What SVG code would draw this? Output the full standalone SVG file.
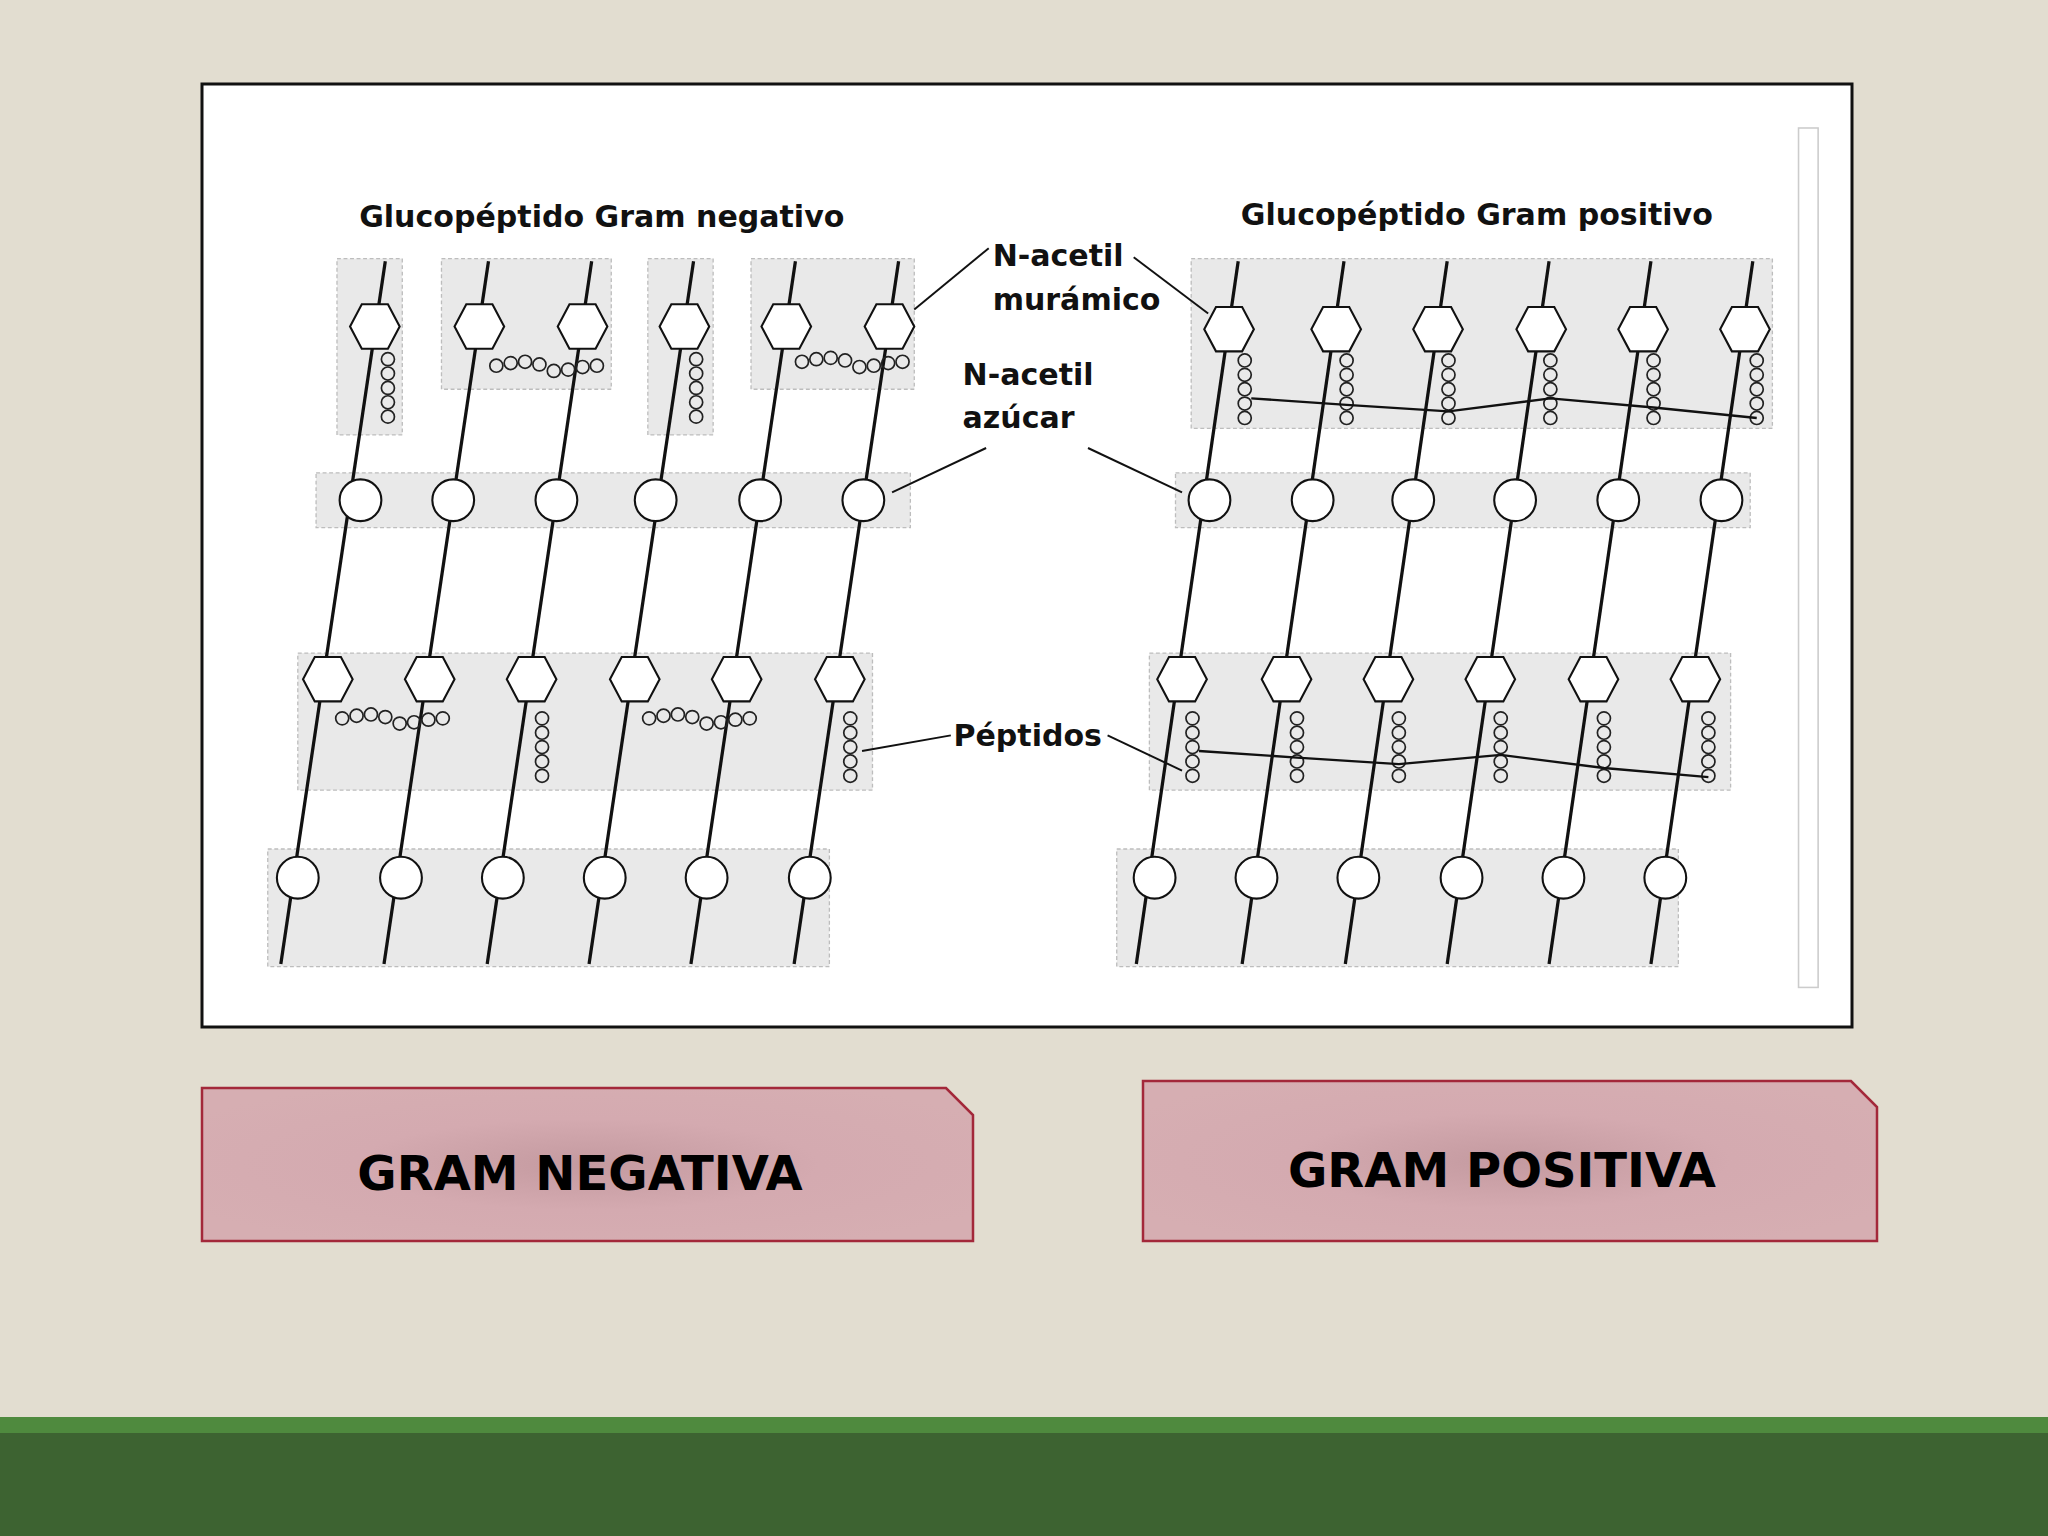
<svg xmlns="http://www.w3.org/2000/svg" width="2048" height="1536" viewBox="0 0 2048 1536">
<defs>
<radialGradient id="bx" cx="0.5" cy="0.5" r="0.6"><stop offset="0" stop-color="#c49aa0"/><stop offset="0.5" stop-color="#d4aab0"/><stop offset="1" stop-color="#d6aeb2"/></radialGradient>
<style>
.s{stroke:#111;stroke-width:2.5;fill:none}
.h{stroke:#111;stroke-width:1.6;fill:#fff}
.g{fill:#e9e9e9;stroke:#bdbdbd;stroke-width:1;stroke-dasharray:3 2}
.p{fill:none;stroke:#222;stroke-width:1.3}
.t{font-family:"DejaVu Sans",sans-serif;font-weight:bold;font-size:23px;fill:#111}
.big{font-family:"DejaVu Sans",sans-serif;font-weight:bold;font-size:48px;fill:#000;text-anchor:middle}
.lead{stroke:#111;stroke-width:1.5;fill:none}
</style>
<g id="hex"><polygon class="h" points="-10,-17 10,-17 19,0 10,17 -10,17 -19,0"/></g>
<g id="cir"><circle class="h" r="16"/></g>
<g id="pv"><circle class="p" cx="0" cy="0" r="5"/><circle class="p" cx="0" cy="11" r="5"/><circle class="p" cx="0" cy="22" r="5"/><circle class="p" cx="0" cy="33" r="5"/><circle class="p" cx="0" cy="44" r="5"/></g>
<g id="ph"><circle class="p" cx="0" cy="0" r="5"/><circle class="p" cx="11" cy="-2" r="5"/><circle class="p" cx="22" cy="-3" r="5"/><circle class="p" cx="33" cy="-1" r="5"/><circle class="p" cx="44" cy="4" r="5"/><circle class="p" cx="55" cy="3" r="5"/><circle class="p" cx="66" cy="1" r="5"/><circle class="p" cx="77" cy="0" r="5"/></g>
</defs>
<rect width="2048" height="1536" fill="#e2ddd0"/>
<rect y="1417" width="2048" height="16" fill="#4f8a3e"/>
<rect y="1433" width="2048" height="103" fill="#3d6331"/>
<rect x="202" y="84" width="1650" height="943" fill="#fff" stroke="#111" stroke-width="3"/>
<g transform="scale(1.30612)">
<g id="bg-noise">
<rect class="g" x="258" y="198" width="50" height="135"/><rect class="g" x="338" y="198" width="130" height="100"/><rect class="g" x="496" y="198" width="50" height="135"/><rect class="g" x="575" y="198" width="125" height="100"/>
<rect class="g" x="242" y="362" width="455" height="42"/><rect class="g" x="228" y="500" width="440" height="105"/><rect class="g" x="205" y="650" width="430" height="90"/>
<rect class="g" x="912" y="198" width="445" height="130"/><rect class="g" x="900" y="362" width="440" height="42"/><rect class="g" x="880" y="500" width="445" height="105"/><rect class="g" x="855" y="650" width="430" height="90"/>
<rect x="1377" y="98" width="15" height="658" fill="none" stroke="#ccc" stroke-width="1.2"/>
</g>
<text class="t" x="275" y="174">Glucopéptido Gram negativo</text>
<text class="t" x="950" y="172">Glucopéptido Gram positivo</text>
<g id="neg">
<line class="s" x1="295" y1="200" x2="215" y2="738"/><line class="s" x1="374" y1="200" x2="294" y2="738"/><line class="s" x1="453" y1="200" x2="373" y2="738"/><line class="s" x1="531" y1="200" x2="451" y2="738"/><line class="s" x1="609" y1="200" x2="529" y2="738"/><line class="s" x1="688" y1="200" x2="608" y2="738"/>
<use href="#hex" x="287" y="250"/><use href="#hex" x="367" y="250"/><use href="#hex" x="446" y="250"/><use href="#hex" x="524" y="250"/><use href="#hex" x="602" y="250"/><use href="#hex" x="681" y="250"/>
<use href="#cir" x="276" y="383"/><use href="#cir" x="347" y="383"/><use href="#cir" x="426" y="383"/><use href="#cir" x="502" y="383"/><use href="#cir" x="582" y="383"/><use href="#cir" x="661" y="383"/>
<use href="#hex" x="251" y="520"/><use href="#hex" x="329" y="520"/><use href="#hex" x="407" y="520"/><use href="#hex" x="486" y="520"/><use href="#hex" x="564" y="520"/><use href="#hex" x="643" y="520"/>
<use href="#cir" x="228" y="672"/><use href="#cir" x="307" y="672"/><use href="#cir" x="385" y="672"/><use href="#cir" x="463" y="672"/><use href="#cir" x="541" y="672"/><use href="#cir" x="620" y="672"/>
<use href="#pv" x="297" y="275"/><use href="#pv" x="533" y="275"/><use href="#pv" x="415" y="550"/><use href="#pv" x="651" y="550"/>
<use href="#ph" x="380" y="280"/><use href="#ph" x="614" y="277"/><use href="#ph" x="262" y="550"/><use href="#ph" x="497" y="550"/>
</g>
<g id="pos">
<line class="s" x1="948" y1="200" x2="870" y2="738"/><line class="s" x1="1029" y1="200" x2="951" y2="738"/><line class="s" x1="1108" y1="200" x2="1030" y2="738"/><line class="s" x1="1186" y1="200" x2="1108" y2="738"/><line class="s" x1="1264" y1="200" x2="1186" y2="738"/><line class="s" x1="1342" y1="200" x2="1264" y2="738"/>
<use href="#hex" x="941" y="252"/><use href="#hex" x="1023" y="252"/><use href="#hex" x="1101" y="252"/><use href="#hex" x="1180" y="252"/><use href="#hex" x="1258" y="252"/><use href="#hex" x="1336" y="252"/>
<use href="#cir" x="926" y="383"/><use href="#cir" x="1005" y="383"/><use href="#cir" x="1082" y="383"/><use href="#cir" x="1160" y="383"/><use href="#cir" x="1239" y="383"/><use href="#cir" x="1318" y="383"/>
<use href="#hex" x="905" y="520"/><use href="#hex" x="985" y="520"/><use href="#hex" x="1063" y="520"/><use href="#hex" x="1141" y="520"/><use href="#hex" x="1220" y="520"/><use href="#hex" x="1298" y="520"/>
<use href="#cir" x="884" y="672"/><use href="#cir" x="962" y="672"/><use href="#cir" x="1040" y="672"/><use href="#cir" x="1119" y="672"/><use href="#cir" x="1197" y="672"/><use href="#cir" x="1275" y="672"/>
<use href="#pv" x="953" y="276"/><use href="#pv" x="1031" y="276"/><use href="#pv" x="1109" y="276"/><use href="#pv" x="1187" y="276"/><use href="#pv" x="1266" y="276"/><use href="#pv" x="1345" y="276"/>
<use href="#pv" x="913" y="550"/><use href="#pv" x="993" y="550"/><use href="#pv" x="1071" y="550"/><use href="#pv" x="1149" y="550"/><use href="#pv" x="1228" y="550"/><use href="#pv" x="1308" y="550"/>
<polyline class="s" style="stroke-width:1.8" points="958,305 1031,310 1109,315 1187,305 1266,312 1345,320"/>
<polyline class="s" style="stroke-width:1.8" points="918,575 993,580 1071,585 1149,578 1228,588 1308,595"/>
</g>
<g id="labels">
<text class="t" x="760" y="204">N-acetil</text><text class="t" x="760" y="237">murámico</text>
<text class="t" x="737" y="295">N-acetil</text><text class="t" x="737" y="328">azúcar</text>
<text class="t" x="730" y="571">Péptidos</text>
</g>
<g id="connectors">
<line class="lead" x1="757" y1="190" x2="700" y2="237"/><line class="lead" x1="868" y1="197" x2="925" y2="240"/>
<line class="lead" x1="755" y1="343" x2="683" y2="377"/><line class="lead" x1="833" y1="343" x2="905" y2="377"/>
<line class="lead" x1="728" y1="563" x2="660" y2="575"/><line class="lead" x1="848" y1="563" x2="905" y2="590"/>
</g>
</g>
<g id="box-neg"><path d="M202,1088 H946 L973,1115 V1241 H202 Z" fill="url(#bx)" stroke="#a3283a" stroke-width="2.5"/><text class="big" x="580" y="1190">GRAM NEGATIVA</text></g>
<g id="box-pos"><path d="M1143,1081 H1851 L1877,1107 V1241 H1143 Z" fill="url(#bx)" stroke="#a3283a" stroke-width="2.5"/><text class="big" x="1502" y="1187">GRAM POSITIVA</text></g>
</svg>
